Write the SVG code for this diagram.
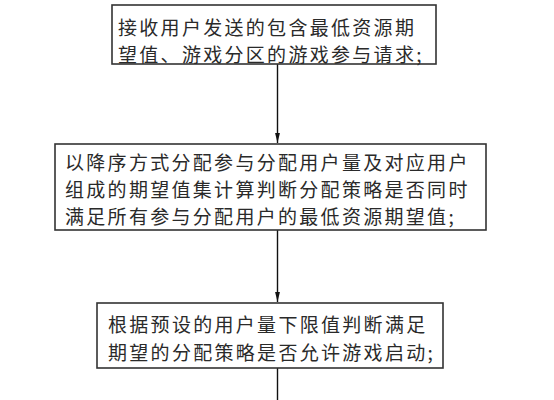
<svg xmlns="http://www.w3.org/2000/svg" width="554" height="400" viewBox="0 0 554 400">
<style>
.box{fill:#fff;stroke:#333;stroke-width:1.6}
.t{font-family:"Noto Sans CJK SC","Noto Sans CJK JP",sans-serif;font-size:19px;letter-spacing:2.3px;fill:#2a2a2a;dominant-baseline:central}
.c{stroke:#111;stroke-width:1.4;fill:none}
</style>
<defs>
<marker id="ah" markerWidth="10" markerHeight="6" refX="10" refY="3" orient="auto" markerUnits="userSpaceOnUse" viewBox="0 0 10 6">
<path d="M0,0.6 L10,3 L0,5.4 Z" fill="#111"/>
</marker>
</defs>
<rect width="554" height="400" fill="#fff"/>
<g id="connectors">
<line class="c" x1="277.5" y1="64" x2="277.5" y2="143" marker-end="url(#ah)"/>
<line class="c" x1="277.5" y1="230" x2="277.5" y2="302" marker-end="url(#ah)"/>
<line class="c" x1="277.5" y1="368" x2="277.5" y2="400"/>
</g>
<g id="node1">
<rect class="box" x="112" y="5" width="324" height="59"/>
<text class="t" x="118" y="26">接收用户发送的包含最低资源期</text>
<text class="t" x="118" y="53">望值、游戏分区的游戏参与请求;</text>
</g>
<g id="node2">
<rect class="box" x="55" y="144" width="431" height="86"/>
<text class="t" x="65" y="161.5">以降序方式分配参与分配用户量及对应用户</text>
<text class="t" x="65" y="188.5">组成的期望值集计算判断分配策略是否同时</text>
<text class="t" x="65" y="215.5">满足所有参与分配用户的最低资源期望值;</text>
</g>
<g id="node3">
<rect class="box" x="97" y="303" width="346" height="65"/>
<text class="t" x="108" y="323.5">根据预设的用户量下限值判断满足</text>
<text class="t" x="108" y="351.5">期望的分配策略是否允许游戏启动;</text>
</g>
</svg>
